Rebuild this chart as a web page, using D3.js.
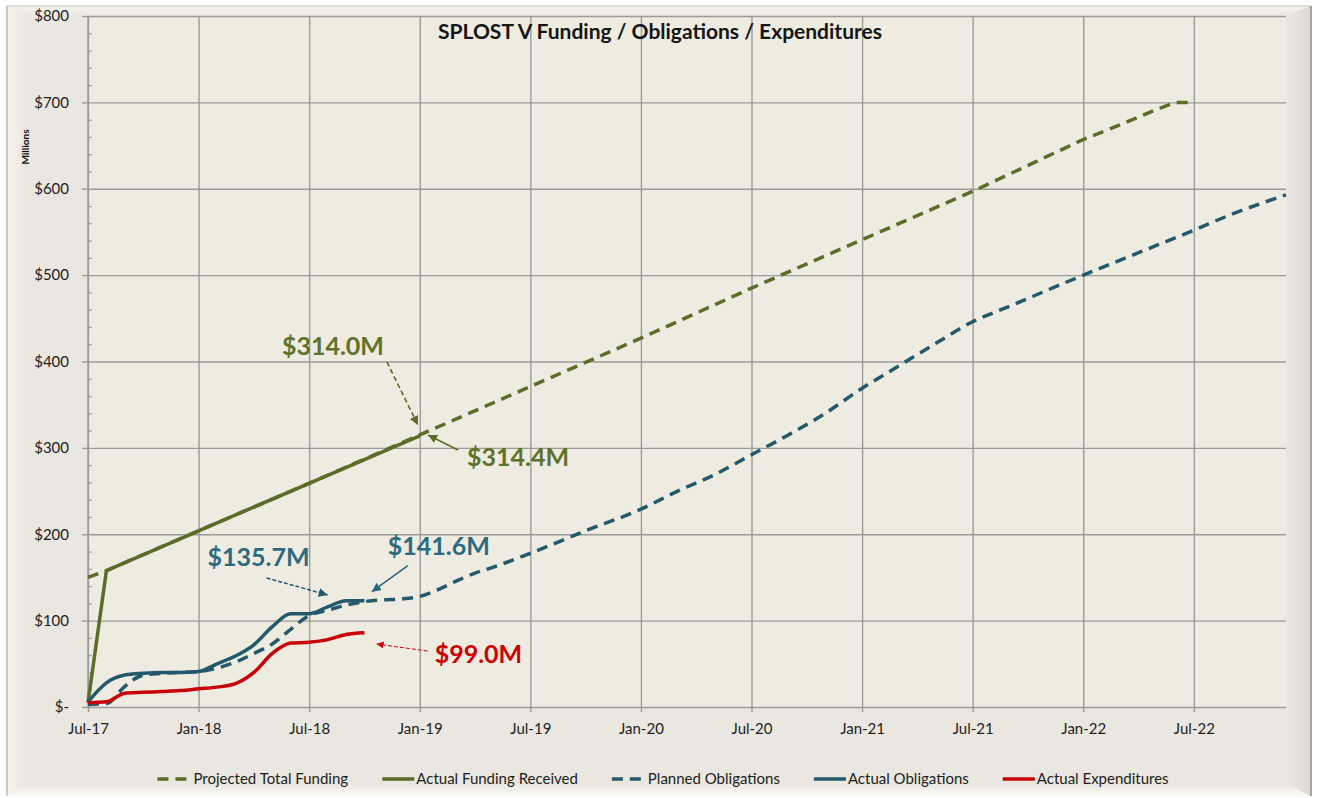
<!DOCTYPE html>
<html>
<head>
<meta charset="utf-8">
<style>
  body { margin: 0; background: #fff; }
  text { font-family: Lato, 'Open Sans', sans-serif; }
  .axis text { font-size: 15px; fill: #1d1d1d; }
  .axis .domain { display: none; }
  .grid line { stroke: #9b9b9b; stroke-width: 1.4px; }
  .grid .domain { display: none; }
  .title { font-size: 21px; font-weight: 700; fill: #151515; }
  .legend text { font-size: 15px; fill: #1d1d1d; }
  .callout { font-size: 25px; font-weight: 700; }
</style>
</head>
<body>
<svg id="chart"></svg>
<script src="https://cdn.jsdelivr.net/npm/d3@7/dist/d3.min.js"></script>
<script>
var width = 1319, height = 798;

// months are counted from Jul-17 (0) to Dec-22 (65)
var tickMonths = [0, 6, 12, 18, 24, 30, 36, 42, 48, 54, 60];
var tickLabels = ['Jul-17', 'Jan-18', 'Jul-18', 'Jan-19', 'Jul-19', 'Jan-20',
                  'Jul-20', 'Jan-21', 'Jul-21', 'Jan-22', 'Jul-22'];
var yTicks = [0, 100, 200, 300, 400, 500, 600, 700, 800];

var projectedMonths = [0, 1, 6, 12, 18, 24, 30, 36, 42, 48, 54, 56, 58, 59, 60];
var projectedValues = [150, 158, 204, 259, 315, 371, 427, 485, 541, 597, 657, 674, 692, 700, 700];

var fundingMonths = [0, 1, 6, 12, 18];
var fundingValues = [5, 158, 204, 259, 314];

var plannedMonths = [0, 1, 2, 3, 4, 6, 7, 8, 9, 10, 11, 12, 13, 14, 15, 16, 17, 18, 19, 20, 21, 22,
                     24, 27, 30, 32, 34, 36, 38, 40, 42, 44, 46, 48, 50, 54, 57, 60, 62, 65];
var plannedValues = [3, 4, 24, 37, 39, 41, 45, 52, 62, 73, 90, 106, 112, 118, 122, 124, 125, 128, 136, 146, 155, 162,
                     178, 204, 229, 250, 269, 292, 315, 340, 369, 395, 421, 446, 464, 500, 526, 552, 570, 593];

var obligationMonths = [0, 1, 2, 3, 4, 5, 6, 7, 8, 9, 10, 11, 12, 13, 14, 15];
var obligationValues = [6, 28, 37, 39, 40, 40, 41, 50, 59, 72, 93, 108, 108, 116, 123, 123];

var expenditureMonths = [0, 1, 2, 3, 4, 5, 6, 7, 8, 9, 10, 11, 12, 13, 14, 15];
var expenditureValues = [5, 6, 16, 17, 18, 19, 21, 23, 27, 40, 62, 74, 75, 78, 84, 86];

var seriesNames = ['Projected Total Funding', 'Actual Funding Received', 'Planned Obligations',
                   'Actual Obligations', 'Actual Expenditures'];

var calloutLabels = ['$314.0M', '$314.4M', '$135.7M', '$141.6M', '$99.0M'];

var green = '#5b6d29', blue = '#23596b', red = '#c8000a';

var series = [
  { name: seriesNames[0], months: projectedMonths, values: projectedValues, color: green, dashed: true, smooth: false },
  { name: seriesNames[1], months: fundingMonths, values: fundingValues, color: green, dashed: false, smooth: false },
  { name: seriesNames[2], months: plannedMonths, values: plannedValues, color: blue, dashed: true, smooth: true },
  { name: seriesNames[3], months: obligationMonths, values: obligationValues, color: blue, dashed: false, smooth: true },
  { name: seriesNames[4], months: expenditureMonths, values: expenditureValues, color: red, dashed: false, smooth: true }
];

var plot = { left: 88, right: 1286, top: 16, bottom: 707 };

var x = d3.scaleLinear().domain([0, 65]).range([plot.left, plot.right]);
var y = d3.scaleLinear().domain([0, 800]).range([plot.bottom, plot.top]);

var svg = d3.select('#chart')
  .attr('width', width)
  .attr('height', height);

var defs = svg.append('defs');

function gradient(id, vertical, from, to) {
  var g = defs.append('linearGradient')
    .attr('id', id)
    .attr('x1', 0).attr('y1', 0)
    .attr('x2', vertical ? 0 : 1).attr('y2', vertical ? 1 : 0);
  g.append('stop').attr('offset', '0%').attr('stop-color', from);
  g.append('stop').attr('offset', '100%').attr('stop-color', to);
}
gradient('bevel-left', false, '#f8f6ea', '#e9e7df');
gradient('bevel-top', true, '#f6f4ea', '#ebe9e1');
gradient('bevel-right', false, '#e9e7df', '#dcdad2');
gradient('bevel-bottom', true, '#e9e7df', '#fbfaf4');

// chart frame with soft bevel
var L = 7, T = 6, R = 1311, B = 796;
var bl = 18, bt = 9, br = 24, bb = 12;
svg.append('rect')
  .attr('x', L).attr('y', T)
  .attr('width', R - L).attr('height', B - T)
  .attr('fill', '#e9e7df');

function poly(points, fill) {
  svg.append('polygon')
    .attr('points', points.map(function(p) { return p.join(','); }).join(' '))
    .attr('fill', fill);
}
poly([[L, T], [L + bl, T + bt], [L + bl, B - bb], [L, B]], 'url(#bevel-left)');
poly([[L, T], [R, T], [R - br, T + bt], [L + bl, T + bt]], 'url(#bevel-top)');
poly([[R, T], [R, B], [R - br, B - bb], [R - br, T + bt]], 'url(#bevel-right)');
poly([[L, B], [L + bl, B - bb], [R - br, B - bb], [R, B]], 'url(#bevel-bottom)');

svg.append('line').attr('x1', L).attr('x2', R).attr('y1', T).attr('y2', T)
  .attr('stroke', '#c4c2bb').attr('stroke-width', 1);
svg.append('line').attr('x1', L).attr('x2', L).attr('y1', T).attr('y2', B)
  .attr('stroke', '#a9a7a0').attr('stroke-width', 1.2);
svg.append('line').attr('x1', R).attr('x2', R).attr('y1', T).attr('y2', B)
  .attr('stroke', '#8d8b85').attr('stroke-width', 1.5);

// plot area
svg.append('rect')
  .attr('x', plot.left).attr('y', plot.top)
  .attr('width', plot.right - plot.left).attr('height', plot.bottom - plot.top)
  .attr('fill', '#eeebe1');

// gridlines
svg.append('g')
  .attr('class', 'grid')
  .attr('transform', 'translate(' + plot.left + ',0)')
  .call(d3.axisLeft(y).tickValues(yTicks).tickSize(-(plot.right - plot.left)).tickFormat(''));

svg.append('g')
  .attr('class', 'grid')
  .attr('transform', 'translate(0,' + (plot.bottom + 5) + ')')
  .call(d3.axisBottom(x).tickValues(tickMonths).tickSize(-(plot.bottom + 5 - plot.top)).tickFormat(''));

// left axis line
svg.append('line')
  .attr('x1', plot.left).attr('x2', plot.left)
  .attr('y1', plot.top).attr('y2', plot.bottom)
  .attr('stroke', '#9b9b9b').attr('stroke-width', 1.4);

// y axis: major ticks outside, minor ticks inside
var yAxis = svg.append('g')
  .attr('class', 'axis')
  .attr('transform', 'translate(' + plot.left + ',0)')
  .call(d3.axisLeft(y)
    .tickValues(yTicks)
    .tickSize(6)
    .tickPadding(13)
    .tickFormat(function(d) { return d === 0 ? '$-' : '$' + d; }));
yAxis.selectAll('line').attr('stroke', '#9b9b9b').attr('stroke-width', 1.4);

var minor = d3.range(0, 801, 20).filter(function(v) { return v % 100 !== 0; });
svg.append('g')
  .attr('class', 'axis')
  .attr('transform', 'translate(' + plot.left + ',0)')
  .call(d3.axisLeft(y).tickValues(minor).tickSize(-4).tickFormat(''))
  .selectAll('line').attr('stroke', '#9b9b9b').attr('stroke-width', 1.2);

// x axis labels
svg.append('g')
  .attr('class', 'axis')
  .attr('transform', 'translate(0,' + plot.bottom + ')')
  .call(d3.axisBottom(x)
    .tickValues(tickMonths)
    .tickSize(5)
    .tickPadding(11)
    .tickFormat(function(d, i) { return tickLabels[i]; }))
  .selectAll('line').attr('stroke', 'none');

// y axis title
svg.append('text')
  .attr('transform', 'translate(29,147) rotate(-90)')
  .attr('text-anchor', 'middle')
  .style('font-size', '10px')
  .style('font-weight', 700)
  .style('fill', '#111')
  .text('Millions');

// chart title
svg.append('text')
  .attr('class', 'title')
  .attr('x', 660)
  .attr('y', 39)
  .attr('text-anchor', 'middle')
  .text('SPLOST V Funding / Obligations / Expenditures');

// series lines
var smoothLine = d3.line()
  .x(function(d) { return x(d.m); })
  .y(function(d) { return y(d.v); })
  .curve(d3.curveMonotoneX);
var straightLine = d3.line()
  .x(function(d) { return x(d.m); })
  .y(function(d) { return y(d.v); });

svg.append('g')
  .selectAll('path')
  .data(series)
  .enter().append('path')
    .attr('d', function(s) {
      var pts = s.months.map(function(m, i) { return { m: m, v: s.values[i] }; });
      return s.smooth ? smoothLine(pts) : straightLine(pts);
    })
    .attr('fill', 'none')
    .attr('stroke', function(s) { return s.color; })
    .attr('stroke-width', 3.5)
    .attr('stroke-linejoin', 'round')
    .attr('stroke-dasharray', function(s) { return s.dashed ? '11,7' : null; });

// callouts: arrow tip in data units, tail and label offsets in px
var callouts = [
  { tip: [17.9, 326.5], tail: [-31, -63], text: [-136, -70], color: green, dash: '5,3', width: 1.6 },
  { tip: [18.45, 315], tail: [30, 15], text: [39, 31], color: green, dash: null, width: 1.6 },
  { tip: [13.0, 129.7], tail: [-61, -17], text: [-120, -29], color: blue, dash: '4,2', width: 1.5 },
  { tip: [15.4, 133.5], tail: [36, -26], text: [16, -37], color: '#2a6679', dash: null, width: 1.5 },
  { tip: [15.66, 72.9], tail: [51, 7], text: [58, 19], color: red, dash: '4,2', width: 1 }
];

callouts.forEach(function(c, i) {
  var id = 'arrow-' + i;
  var s = c.width < 1.2 ? 7 : 9;
  defs.append('marker')
    .attr('id', id)
    .attr('viewBox', '0 0 10 10')
    .attr('refX', 10).attr('refY', 5)
    .attr('markerWidth', s).attr('markerHeight', s)
    .attr('markerUnits', 'userSpaceOnUse')
    .attr('orient', 'auto')
    .append('path')
      .attr('d', 'M0,0 L10,5 L0,10 Z')
      .attr('fill', c.color);

  var tx = x(c.tip[0]), ty = y(c.tip[1]);
  svg.append('line')
    .attr('x1', tx + c.tail[0]).attr('y1', ty + c.tail[1])
    .attr('x2', tx).attr('y2', ty)
    .attr('stroke', c.color)
    .attr('stroke-width', c.width)
    .attr('stroke-dasharray', c.dash)
    .attr('marker-end', 'url(#' + id + ')');

  svg.append('text')
    .attr('class', 'callout')
    .attr('x', tx + c.text[0])
    .attr('y', ty + c.text[1])
    .style('fill', i === 4 ? '#d00000' : (c.color === green ? '#5e7229' : '#2b6a80'))
    .text(calloutLabels[i]);
});

// legend
var legend = svg.append('g').attr('class', 'legend');
var items = legend.selectAll('g')
  .data(series)
  .enter().append('g');

items.append('line')
  .attr('x1', 0).attr('x2', function(s) { return s.dashed ? 29 : 32; })
  .attr('y1', 0).attr('y2', 0)
  .attr('stroke', function(s) { return s.color; })
  .attr('stroke-width', 3.5)
  .attr('stroke-dasharray', function(s) { return s.dashed ? '11,7' : null; });

items.append('text')
  .attr('x', function(s) { return s.dashed ? 36 : 34; })
  .attr('dy', '0.35em')
  .text(function(s) { return s.name; });

var offsets = [], cursor = 0;
items.each(function() {
  offsets.push(cursor);
  cursor += this.getBBox().width + 34;
});
var legendWidth = cursor - 34;
var legendX = 663 - legendWidth / 2;
items.attr('transform', function(s, i) {
  return 'translate(' + (legendX + offsets[i]) + ',779)';
});
</script>
</body>
</html>
